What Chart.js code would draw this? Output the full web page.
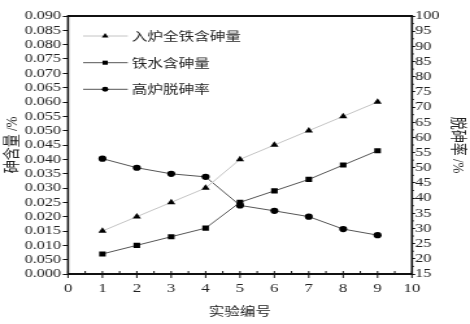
<!DOCTYPE html>
<html>
<head>
<meta charset="utf-8">
<script src="https://cdn.jsdelivr.net/npm/chart.js@4/dist/chart.umd.min.js"></script>
<style>
html, body { margin: 0; padding: 0; background: #fff; overflow: hidden; }
#wrap { width: 362px; height: 324px; transform: scaleX(1.2983); transform-origin: 0 0; }
</style>
</head>
<body>
<div id="wrap"><canvas id="myChart" width="362" height="324"></canvas></div>
<script>
// data
const experiments = [1, 2, 3, 4, 5, 6, 7, 8, 9]
const ironInputAs = [0.015, 0.020, 0.025, 0.030, 0.040, 0.045, 0.050, 0.055, 0.060]
const hotMetalAs = [0.007, 0.010, 0.013, 0.016, 0.025, 0.029, 0.033, 0.038, 0.043]
const removalRate = [53.0, 50.0, 48.0, 47.0, 37.6, 35.8, 33.9, 29.8, 27.8]
const seriesNames = ['入炉全铁含砷量', '铁水含砷量', '高炉脱砷率']

const xTicks = [0, 1, 2, 3, 4, 5, 6, 7, 8, 9, 10]
const leftTicks = [0, 0.005, 0.010, 0.015, 0.020, 0.025, 0.030, 0.035, 0.040, 0.045,
    0.050, 0.055, 0.060, 0.065, 0.070, 0.075, 0.080, 0.085, 0.090]
const leftTickLabels = ['0.000', '0.050', '0.010', '0.015', '0.020', '0.025', '0.030', '0.035', '0.040', '0.045',
    '0.050', '0.055', '0.060', '0.065', '0.070', '0.075', '0.080', '0.085', '0.090']
const rightTicks = [15, 20, 25, 30, 35, 40, 45, 50, 55, 60, 65, 70, 75, 80, 85, 90, 95, 100]

const toPoints = (ys) => experiments.map((x, i) => ({ x: x, y: ys[i] }))

const serif = '"Liberation Serif", "Times New Roman", serif'
const cjk = '"Noto Sans CJK SC", "Liberation Serif", sans-serif'
const titleFont = { family: '"Liberation Serif", "Noto Sans CJK SC", serif', size: 13 }

// frame, minor ticks and the line-marker-line legend
const framePlugin = {
    id: 'frame',
    afterDraw(chart) {
        const ctx = chart.ctx
        const a = chart.chartArea
        const xs = chart.scales.x
        const yr = chart.scales.y1
        ctx.save()
        ctx.strokeStyle = '#111'

        // x ticks (major at integers, minor at halves)
        ctx.lineWidth = 1
        xTicks.forEach(function (v) {
            const px = xs.getPixelForValue(v)
            ctx.beginPath(); ctx.moveTo(px, a.bottom - 3); ctx.lineTo(px, a.bottom + 4); ctx.stroke()
            if (v < 10) {
                const pm = xs.getPixelForValue(v + 0.5)
                ctx.beginPath(); ctx.moveTo(pm, a.bottom - 3); ctx.lineTo(pm, a.bottom + 1); ctx.stroke()
            }
        })
        // right minor ticks
        rightTicks.forEach(function (v) {
            if (v >= 100) return
            const py = yr.getPixelForValue(v + 2.5)
            ctx.beginPath(); ctx.moveTo(a.right, py); ctx.lineTo(a.right + 1.5, py); ctx.stroke()
        })

        // frame
        ctx.lineWidth = 2
        ctx.beginPath(); ctx.moveTo(a.left, a.top); ctx.lineTo(a.right, a.top); ctx.stroke()
        ctx.beginPath(); ctx.moveTo(a.left, a.bottom); ctx.lineTo(a.right, a.bottom); ctx.stroke()
        ctx.lineWidth = 1.6
        ctx.beginPath(); ctx.moveTo(a.left, a.top - 1); ctx.lineTo(a.left, a.bottom + 1); ctx.stroke()
        ctx.beginPath(); ctx.moveTo(a.right, a.top - 1); ctx.lineTo(a.right, a.bottom + 1); ctx.stroke()

        // legend
        const rows = [20, 46.7, 73.3]
        chart.data.datasets.forEach(function (ds, i) {
            const y = a.top + rows[i]
            ctx.strokeStyle = ds.borderColor
            ctx.lineWidth = 1
            ctx.beginPath(); ctx.moveTo(a.left + 11.6, y); ctx.lineTo(a.left + 46, y); ctx.stroke()
            ctx.fillStyle = '#000'
            ctx.strokeStyle = '#000'
            Chart.helpers.drawPoint(ctx, { pointStyle: ds.pointStyle, radius: ds.pointRadius * 0.8, rotation: 0, borderWidth: 0 }, a.left + 28.6, y)
            ctx.fillStyle = '#222'
            ctx.font = '12px ' + cjk
            ctx.textBaseline = 'middle'
            ctx.textAlign = 'left'
            ctx.fillText(ds.label, a.left + 49, y + 0.5)
        })
        ctx.restore()
    }
}

var ctx = document.getElementById('myChart')

var myChart = new Chart(ctx, {
    type: 'line',
    data: {
        datasets: [
            {
                label: seriesNames[0],
                data: toPoints(ironInputAs),
                yAxisID: 'y',
                borderColor: '#c4c4c4',
                borderWidth: 1,
                pointStyle: 'triangle',
                pointRadius: 3.7,
                pointBackgroundColor: '#000',
                pointBorderColor: '#000',
                pointBorderWidth: 0
            },
            {
                label: seriesNames[1],
                data: toPoints(hotMetalAs),
                yAxisID: 'y',
                borderColor: '#555',
                borderWidth: 1,
                pointStyle: 'rect',
                pointRadius: 3.6,
                pointBackgroundColor: '#000',
                pointBorderColor: '#000',
                pointBorderWidth: 0
            },
            {
                label: seriesNames[2],
                data: toPoints(removalRate),
                yAxisID: 'y1',
                borderColor: '#555',
                borderWidth: 1,
                pointStyle: 'circle',
                pointRadius: 3.1,
                pointBackgroundColor: '#000',
                pointBorderColor: '#000',
                pointBorderWidth: 0
            }
        ]
    },
    options: {
        responsive: false,
        animation: false,
        layout: { padding: { top: 16, left: 0, right: 0, bottom: 0 } },
        plugins: {
            legend: { display: false },
            tooltip: { enabled: false }
        },
        elements: { line: { tension: 0 } },
        scales: {
            x: {
                type: 'linear',
                min: 0,
                max: 10,
                afterBuildTicks: (s) => { s.ticks = xTicks.map(v => ({ value: v })) },
                afterFit: (s) => { s.height = 50 },
                grid: { drawOnChartArea: false, drawTicks: false },
                border: { display: false },
                ticks: { color: '#222', font: { family: serif, size: 13 }, padding: 7, maxRotation: 0, autoSkip: false },
                title: { display: true, text: '实验编号', color: '#222', font: { family: cjk, size: 12 }, padding: { top: 0, bottom: 5 } }
            },
            y: {
                type: 'linear',
                position: 'left',
                min: 0,
                max: 0.09,
                afterBuildTicks: (s) => { s.ticks = leftTicks.map(v => ({ value: v })) },
                afterFit: (s) => { s.width = 52.4 },
                grid: { drawOnChartArea: false, drawTicks: true, tickLength: 4, color: '#111' },
                border: { display: false },
                ticks: {
                    color: '#222', font: { family: serif, size: 12.5, lineHeight: 1 }, padding: 1.4, autoSkip: false,
                    callback: (value, index) => leftTickLabels[index]
                },
                title: { display: true, text: '砷含量 /%', color: '#222', font: titleFont, padding: { top: 1.5, bottom: 0 } }
            },
            y1: {
                type: 'linear',
                position: 'right',
                min: 15,
                max: 100,
                afterBuildTicks: (s) => { s.ticks = rightTicks.map(v => ({ value: v })) },
                afterFit: (s) => { s.width = 44.7 },
                grid: { drawOnChartArea: false, drawTicks: true, tickLength: 2.5, color: '#111' },
                border: { display: false },
                ticks: { color: '#222', font: { family: serif, size: 12.5, lineHeight: 1 }, padding: 0, autoSkip: false },
                title: { display: true, text: '脱砷率 /%', color: '#222', font: titleFont, padding: { top: 2, bottom: 0 } }
            }
        }
    },
    plugins: [framePlugin]
});
</script>
</body>
</html>
